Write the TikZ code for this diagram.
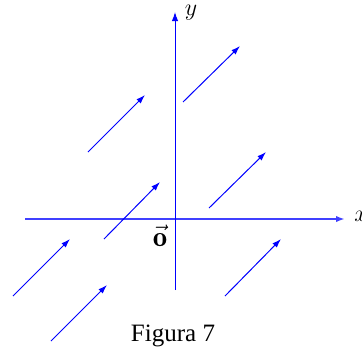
\documentclass[tikz,border=0pt]{standalone}
\usepackage{fontspec}
\newfontfamily\figfont{Liberation Serif}
\usetikzlibrary{arrows.meta}
\begin{document}
\begin{tikzpicture}[x=0.5pt,y=-0.5pt,
  axis/.style={blue,line width=0.75pt,-{Latex[length=4.5pt,width=3.2pt]}},
  vec/.style={blue,line width=0.5pt,-{Latex[length=4.5pt,width=3pt]}}]
\useasboundingbox (0,0) rectangle (362,354);
% axes
\coordinate (xs) at (25,219);
\coordinate (xe) at (345,219);
\coordinate (ys) at (175,290);
\coordinate (ye) at (175,12);
\draw[axis,line width=0.9pt,blue!75] (xs) -- (xe);
\draw[axis,line width=0.5pt] (ys) -- (ye);
\node[anchor=west,inner sep=0pt,font=\large] (xl) at (354,216) {$x$};
\node[inner sep=0pt,font=\large] (yl) at (191,13) {$y$};
\node[inner sep=0pt,font=\Large] (o) at (160,236) {$\vec{\mathbf{o}}$};
% vectors
\coordinate (a1) at (183,102); \coordinate (b1) at (240,46);
\coordinate (a2) at (88,152);  \coordinate (b2) at (145,95);
\coordinate (a3) at (209,208); \coordinate (b3) at (266,152);
\coordinate (a4) at (104,239); \coordinate (b4) at (160,182);
\coordinate (a5) at (13,296);  \coordinate (b5) at (70,239);
\coordinate (a6) at (51,341);  \coordinate (b6) at (107,285);
\coordinate (a7) at (225,296); \coordinate (b7) at (281,239);
\foreach \i in {1,...,7} \draw[vec] (a\i) -- (b\i);
\node[inner sep=0pt,font=\figfont\fontsize{12.5}{14}\selectfont] (cap) at (173,336) {Figura 7};
\end{tikzpicture}
\end{document}
